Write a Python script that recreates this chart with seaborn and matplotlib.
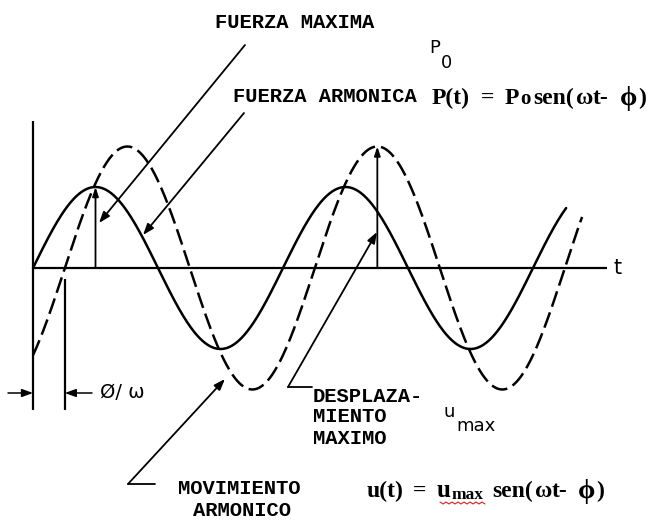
import numpy as np
import pandas as pd
import matplotlib
matplotlib.use("Agg")
import matplotlib.pyplot as plt
import seaborn as sns

# Harmonic force and the lagging displacement response
series = ["P(t)", "u(t)"]
amplitudes = [1.0, 1.5]          # P0 and u_max, in units of P0
phases = [0.0, 0.80]             # phase lag φ (rad)
wt_end = [13.40, 13.80]          # last ωt drawn for each curve

W, H, DPI = 658, 521, 100
X0, Y0 = 33, 268                 # origin of the t axis on the canvas
PX_PER_RAD = 250 / (2 * np.pi)
PX_PER_UNIT = 81

sns.set_theme(style="white")
plt.rcParams["font.family"] = ["DejaVu Sans"]

fig = plt.figure(figsize=(W / DPI, H / DPI), dpi=DPI)
ax = fig.add_axes([0, 0, 1, 1])
ax.set_xlim(-X0 / PX_PER_RAD, (W - X0) / PX_PER_RAD)
ax.set_ylim((Y0 - H) / PX_PER_UNIT, Y0 / PX_PER_UNIT)
ax.axis("off")


def at(xp, yp):
    """Canvas pixel position -> data coordinates."""
    return (xp - X0) / PX_PER_RAD, (Y0 - yp) / PX_PER_UNIT


# curves
frames = []
for name, amp, ph, end in zip(series, amplitudes, phases, wt_end):
    wt = np.linspace(0, end, 800)
    frames.append(pd.DataFrame({"wt": wt, "valor": amp * np.sin(wt - ph), "serie": name}))
df = pd.concat(frames, ignore_index=True)
sns.lineplot(data=df, x="wt", y="valor", style="serie", color="black",
             dashes={"P(t)": "", "u(t)": (6.5, 2.4)}, linewidth=1.8,
             sort=False, legend=False, ax=ax)

LINE = dict(color="black", lw=1.6, solid_capstyle="butt")
# t axis and vertical axis
ax.plot([0, at(607, 0)[0]], [0, 0], **LINE)
ax.plot([0, 0], [at(0, 121)[1], at(0, 410)[1]], **LINE)

P0, U_MAX = amplitudes
PHI = phases[1]

def arrow(p_from, p_to, lw=1.2, hl=0.55, hw=0.2):
    ax.annotate("", xy=p_to, xytext=p_from,
                arrowprops=dict(arrowstyle=f"-|>,head_length={hl},head_width={hw}",
                                color="black", lw=lw, shrinkA=0, shrinkB=0))

# amplitude markers at the peaks
t_pmax = np.pi / 2
t_umax = PHI + np.pi / 2 + 2 * np.pi
arrow((t_pmax, 0), (t_pmax, P0), lw=1.3, hl=0.45, hw=0.15)
arrow((t_umax, 0), (t_umax, U_MAX), lw=1.3, hl=0.45, hw=0.15)

# phase shift dimension φ/ω
ax.plot([PHI, PHI], [at(0, 279)[1], at(0, 410)[1]], **LINE)
y_dim = at(0, 393)[1]
arrow((at(8, 0)[0], y_dim), (0, y_dim), lw=1.1)
arrow((at(92, 0)[0], y_dim), (PHI, y_dim), lw=1.1)

# leader lines
arrow(at(245, 45), at(99, 223), lw=1.3)
arrow(at(244, 113), at(143, 235), lw=1.3)
ax.plot(*zip(at(312, 387), at(288, 387)), color="black", lw=1.3)
arrow(at(288, 387), at(377, 232), lw=1.3)
ax.plot(*zip(at(155, 484), at(128, 484)), color="black", lw=1.3)
arrow(at(128, 484), at(225, 379), lw=1.3)

MONO = dict(family=["Liberation Mono", "DejaVu Sans Mono"], fontweight="bold",
            fontsize=14.8, color="black", va="center", ha="left")
ax.text(*at(215, 22), "FUERZA MAXIMA", **MONO)
ax.text(*at(233, 97), "FUERZA ARMONICA", **MONO)
ax.text(*at(313, 397), "DESPLAZA-", **MONO)
ax.text(*at(313, 416), "MIENTO", **MONO)
ax.text(*at(313, 439), "MAXIMO", **MONO)
ax.text(*at(178, 488), "MOVIMIENTO", **MONO)
ax.text(*at(193, 510), "ARMONICO", **MONO)

SANS = dict(family=["DejaVu Sans"], color="black", va="center", ha="left")
ax.text(*at(100, 393), "Ø/ ω", fontsize=14, **SANS)
ax.text(*at(614, 268), "t", fontsize=15, **SANS)
ax.text(*at(429, 48), "P", fontsize=13, **SANS)
ax.text(*at(441, 63), "0", fontsize=13, **SANS)
ax.text(*at(444, 412), "u", fontsize=13, **SANS)
ax.text(*at(456, 426), "max", fontsize=13, **SANS)

SERIF = ["Liberation Serif", "DejaVu Serif"]
REG = dict(fontsize=17, fontweight="bold")
SMALL = dict(fontsize=15, fontweight="bold")
PHI_GLYPH = dict(fontsize=20, fontweight="bold")


def place_runs(yp, pieces):
    """Write equation pieces, each starting at its own canvas x position."""
    for txt, xp, dy, kw in pieces:
        ax.text(*at(xp, yp + dy), txt, va="baseline", ha="left",
                family=SERIF, color="black", **kw)


place_runs(104, [
    ("P(t)", 432, 0, REG),
    ("=", 481, 0, REG),
    ("P", 505, 0, REG),
    ("o", 520, 0, SMALL),
    ("sen(", 533, 0, REG),
    ("ω", 576, 0, REG),
    ("t-", 593, 0, REG),
    ("ϕ", 620, 1, PHI_GLYPH),
    (")", 638, 0, REG),
])
place_runs(497, [
    ("u(t)", 367, 0, REG),
    ("=", 413, 0, REG),
    ("u", 437, 0, dict(fontsize=18, fontweight="bold")),
    ("max", 452, 2, dict(fontsize=12.5, fontweight="bold")),
    ("sen(", 492, 0, REG),
    ("ω", 535, 0, REG),
    ("t-", 552, 0, REG),
    ("ϕ", 578, 1, PHI_GLYPH),
    (")", 596, 0, REG),
])

# spell-check squiggle under the subscript
sq_x = np.arange(440, 486, 3)
sq_y = 502 + np.where(np.arange(sq_x.size) % 2 == 0, 0, 2)
ax.plot(*zip(*[at(x, y) for x, y in zip(sq_x, sq_y)]), color="#e02020", lw=0.8)

fig.savefig("out.png", dpi=DPI)
